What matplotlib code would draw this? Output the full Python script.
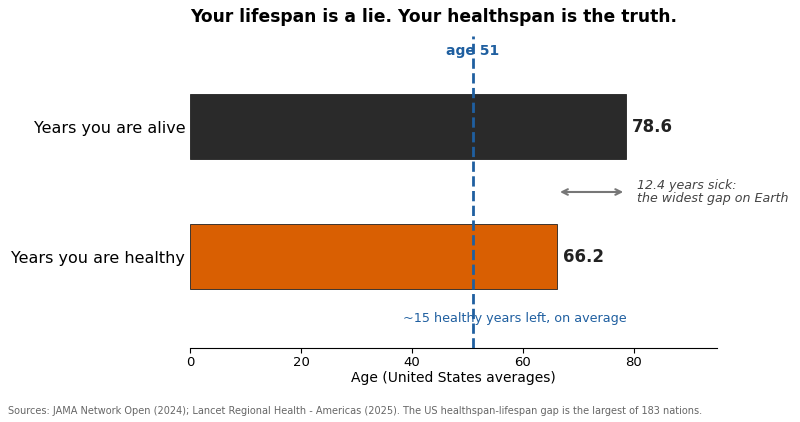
import matplotlib.pyplot as plt

# data
labels = ['Years you are healthy', 'Years you are alive']
values = [66.2, 78.6]
colors = ['#d95f02', '#2a2a2a']
median_age = 51
gap = values[1] - values[0]

fig = plt.figure(figsize=(8, 4.22), dpi=100)
ax = fig.add_axes([0.2375, 0.1754, 0.6587, 0.7393])

ax.barh([0, 1], values, height=0.5, color=colors, edgecolor='#222222', linewidth=0.6)
ax.set_yticks([0, 1])
ax.set_yticklabels(labels, fontsize=11.5)
ax.tick_params(axis='y', length=0)

for i, v in enumerate(values):
    ax.text(v + 1, i, f'{v}', va='center', ha='left', fontsize=12, fontweight='bold', color='#222222')

# vertical age line (drawn over the texts)
ax.axvline(median_age, color='#1f5fa0', linestyle='--', linewidth=2, zorder=5)
ax.text(median_age, 1.585, f'age {median_age}', ha='center', va='center', fontsize=10,
        fontweight='bold', color='#1f5fa0', zorder=1)
ax.text((median_age + values[0]) / 2, -0.47, '~15 healthy years left, on average',
        ha='center', va='center', fontsize=9.2, color='#1f5fa0', zorder=1)

# gap arrow
ax.annotate('', xy=(values[1], 0.5), xytext=(values[0], 0.5),
            arrowprops=dict(arrowstyle='<->', color='#777777', lw=1.5))
ax.text(values[1] + 2, 0.5, f'{gap:.1f} years sick:\nthe widest gap on Earth', ha='left', va='center',
        fontsize=9.1, style='italic', color='#444444', linespacing=1.05)

ax.set_xlim(0, 95)
ax.set_ylim(-0.7, 1.7)
ax.set_xticks([0, 20, 40, 60, 80])
ax.tick_params(axis='x', labelsize=9.5, pad=2)
ax.set_xlabel('Age (United States averages)', fontsize=10, labelpad=2)
for s in ['top', 'right', 'left']:
    ax.spines[s].set_visible(False)

ax.set_title('Your lifespan is a lie. Your healthspan is the truth.', fontsize=12.3, fontweight='bold',
             pad=10, loc='left')

fig.text(0.01, 0.02, 'Sources: JAMA Network Open (2024); Lancet Regional Health - Americas (2025). '
         'The US healthspan-lifespan gap is the largest of 183 nations.', fontsize=7, color='#666666')

plt.savefig('out.png', dpi=100)
